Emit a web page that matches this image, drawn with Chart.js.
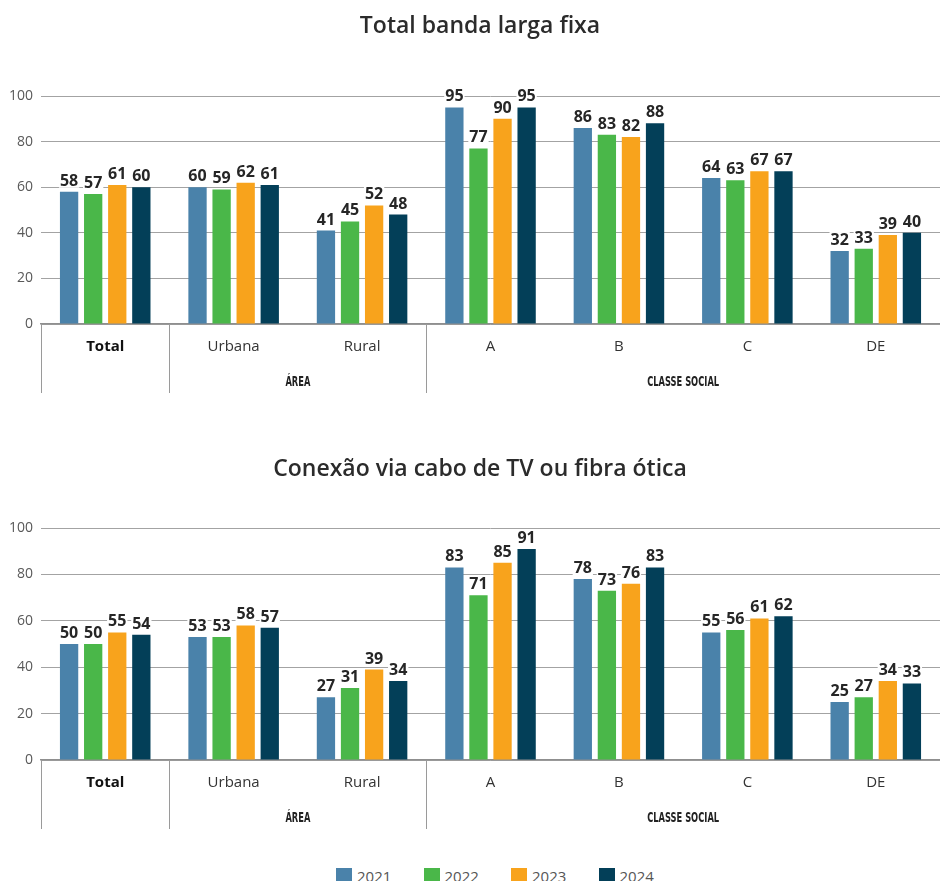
<!DOCTYPE html>
<html lang="pt-BR">
<head>
    <meta charset="UTF-8">
    <title>Banda larga fixa</title>
    <script src="https://cdn.jsdelivr.net/npm/chart.js"></script>
    <style>
        body { margin: 0; background: #fff; }
        #wrap { position: relative; width: 940px; height: 881px; }
        canvas { position: absolute; left: 0; }
        #fixaChart { top: 0; }
        #caboChart { top: 400px; }
        #legend { position: absolute; left: 336px; top: 866px; display: flex;
                  font-family: "Open Sans", sans-serif; font-size: 15px; color: #555; }
        #legend .item { width: 87.5px; display: flex; align-items: center; }
        #legend .box { width: 16px; height: 16px; margin-right: 5px; }
    </style>
</head>
<body>
<div id="wrap">
    <canvas id="fixaChart" width="940" height="400"></canvas>
    <canvas id="caboChart" width="940" height="450"></canvas>
    <div id="legend"></div>
</div>
<script>
    const categories = ['Total', 'Urbana', 'Rural', 'A', 'B', 'C', 'DE'];
    const years = ['2021', '2022', '2023', '2024'];
    const yearColors = ['#4a82aa', '#4ab749', '#f8a31c', '#033f58'];
    const yTicks = [0, 20, 40, 60, 80, 100];

    // category groups shown under the axis
    const categoryGroups = [
        { name: 'ÁREA', first: 1, last: 2 },
        { name: 'CLASSE SOCIAL', first: 3, last: 6 }
    ];

    // Total banda larga fixa (%)
    const fixa2021 = [58, 60, 41, 95, 86, 64, 32];
    const fixa2022 = [57, 59, 45, 77, 83, 63, 33];
    const fixa2023 = [61, 62, 52, 90, 82, 67, 39];
    const fixa2024 = [60, 61, 48, 95, 88, 67, 40];

    // Conexão via cabo de TV ou fibra ótica (%)
    const cabo2021 = [50, 53, 27, 83, 78, 55, 25];
    const cabo2022 = [50, 53, 31, 71, 73, 56, 27];
    const cabo2023 = [55, 58, 39, 85, 76, 61, 34];
    const cabo2024 = [54, 57, 34, 91, 83, 62, 33];

    Chart.defaults.font.family = '"Open Sans", sans-serif';
    Chart.defaults.color = '#333';

    // heading drawn a little right of the canvas centre
    const heading = {
        id: 'heading',
        afterDraw(chart, args, opts) {
            const ctx = chart.ctx;
            ctx.save();
            ctx.font = '600 23px "Open Sans", sans-serif';
            ctx.fillStyle = '#2b2b2b';
            ctx.textAlign = 'center';
            ctx.textBaseline = 'middle';
            ctx.fillText(opts.text, chart.width / 2 + 10, opts.y);
            ctx.restore();
        }
    };

    // value above each bar, on a white patch so grid lines stop behind it
    const valueLabels = {
        id: 'valueLabels',
        afterDatasetsDraw(chart) {
            const ctx = chart.ctx;
            ctx.save();
            ctx.font = 'bold 16px "Open Sans", sans-serif';
            ctx.textAlign = 'center';
            ctx.textBaseline = 'alphabetic';
            const items = [];
            chart.data.datasets.forEach((ds, i) => {
                chart.getDatasetMeta(i).data.forEach((bar, j) => {
                    const text = String(ds.data[j]);
                    items.push({ text, x: bar.x, y: bar.y - 6, w: ctx.measureText(text).width });
                });
            });
            ctx.fillStyle = '#fff';
            items.forEach(it => ctx.fillRect(it.x - it.w / 2 - 1, it.y - 13, it.w + 2, 15));
            ctx.fillStyle = '#262626';
            items.forEach(it => ctx.fillText(it.text, it.x, it.y));
            ctx.restore();
        }
    };

    // separators and group names below the category axis
    const axisGroups = {
        id: 'axisGroups',
        afterDraw(chart) {
            const ctx = chart.ctx;
            const xs = chart.scales.x;
            const area = chart.chartArea;
            const edge = i => (xs.getPixelForValue(i - 1) + xs.getPixelForValue(i)) / 2;
            const top = xs.top;
            ctx.save();
            ctx.strokeStyle = '#9a9a9a';
            ctx.lineWidth = 1;
            const lines = [area.left].concat(categoryGroups.map(g => edge(g.first)));
            lines.forEach(x => {
                const px = Math.round(x) + 0.5;
                ctx.beginPath();
                ctx.moveTo(px, top);
                ctx.lineTo(px, top + 69);
                ctx.stroke();
            });
            ctx.fillStyle = '#222';
            ctx.font = 'bold 14px "Liberation Sans Narrow", "DejaVu Sans Condensed", sans-serif';
            ctx.textAlign = 'center';
            ctx.textBaseline = 'middle';
            categoryGroups.forEach(g => {
                const left = edge(g.first);
                const right = g.last === categories.length - 1 ? area.right : edge(g.last + 1);
                ctx.save();
                ctx.translate((left + right) / 2, top + 58);
                ctx.scale(0.66, 1);
                ctx.fillText(g.name, 0, 0);
                ctx.restore();
            });
            ctx.restore();
        }
    };

    function makeChart(id, title, series, titleY, topPad, bottomPad) {
        return new Chart(document.getElementById(id), {
            type: 'bar',
            data: {
                labels: categories,
                datasets: years.map((y, i) => ({
                    label: y,
                    data: series[i],
                    backgroundColor: yearColors[i],
                    categoryPercentage: 0.75,
                    barPercentage: 0.76
                }))
            },
            options: {
                responsive: false,
                animation: false,
                devicePixelRatio: 1,
                layout: { padding: { left: 0, right: 0, top: topPad, bottom: bottomPad } },
                plugins: {
                    legend: { display: false },
                    tooltip: { enabled: false },
                    heading: { text: title, y: titleY }
                },
                scales: {
                    x: {
                        grid: { display: false, drawTicks: false },
                        border: { display: true, color: '#8f8f8f', width: 1.5 },
                        ticks: {
                            padding: 14,
                            color: ctx => ctx.index === 0 ? '#111' : '#333',
                            font: ctx => ({ size: 15, weight: ctx.index === 0 ? 'bold' : 'normal' })
                        },
                        afterFit(scale) { scale.height = 70; }
                    },
                    y: {
                        min: 0,
                        max: 100,
                        afterBuildTicks(scale) { scale.ticks = yTicks.map(v => ({ value: v })); },
                        grid: { color: '#a3a3a3', drawTicks: false },
                        border: { display: false },
                        ticks: { padding: 8, color: '#595959', font: { size: 14 } },
                        afterFit(scale) { scale.width = 41; }
                    }
                }
            },
            plugins: [heading, valueLabels, axisGroups]
        });
    }

    makeChart('fixaChart', 'Total banda larga fixa',
        [fixa2021, fixa2022, fixa2023, fixa2024], 26, 96, 6);
    makeChart('caboChart', 'Conexão via cabo de TV ou fibra ótica',
        [cabo2021, cabo2022, cabo2023, cabo2024], 69, 128, 20);

    const legend = document.getElementById('legend');
    years.forEach((y, i) => {
        const item = document.createElement('div');
        item.className = 'item';
        item.innerHTML = '<span class="box" style="background:' + yearColors[i] + '"></span>' + y;
        legend.appendChild(item);
    });
</script>
</body>
</html>
